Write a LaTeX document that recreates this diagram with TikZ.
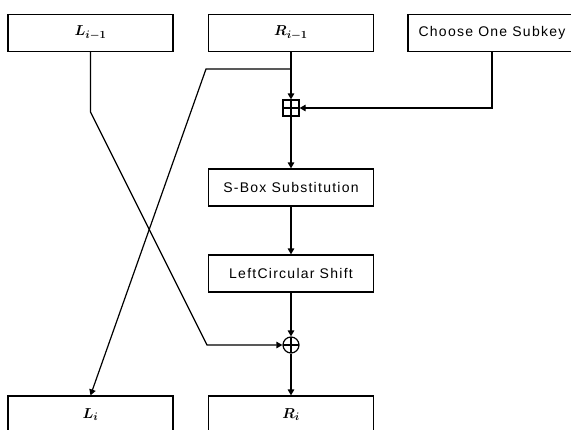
\documentclass[tikz,border=0pt]{standalone}
\usepackage{fontspec}
\setmainfont{Liberation Sans}[LetterSpace=9]
\usetikzlibrary{arrows.meta}
\begin{document}
\begin{tikzpicture}[x=1pt,y=-1pt,
  line width=1.2pt,
  >={Triangle[length=6pt,width=6.5pt]},
  box/.style={draw, minimum width=165pt, minimum height=37pt, inner sep=0pt, font=\fontsize{14}{16}\selectfont},
  mbox/.style={box, font=\fontsize{15.5}{18}\selectfont\boldmath},
  sumbox/.style={draw, rectangle, minimum size=16pt, inner sep=0pt,
    path picture={\draw (path picture bounding box.north) -- (path picture bounding box.south)
      (path picture bounding box.west) -- (path picture bounding box.east);}},
  xorcirc/.style={draw, circle, minimum size=16pt, inner sep=0pt,
    path picture={\draw (path picture bounding box.north) -- (path picture bounding box.south)
      (path picture bounding box.west) -- (path picture bounding box.east);}}
]
\useasboundingbox (0,0) rectangle (571,429);
\node[mbox] (L1) at (90.5,33) {$L_{i-1}$};
\node[mbox] (R1) at (291,33) {$R_{i-1}$};
\node[box, minimum width=168pt] (K) at (492,33) {Choose One Subkey};
\node[sumbox] (xa) at (291,108) {};
\node[box] (S) at (291,187.5) {S-Box Substitution};
\node[box] (C) at (291,273.5) {LeftCircular Shift};
\node[xorcirc] (xo) at (291,345) {};
\node[mbox] (Li) at (90.5,414.5) {$L_i$};
\node[mbox] (Ri) at (291,414.5) {$R_i$};

\coordinate (b1) at (291,69);
\coordinate (b2) at (206,69);
\coordinate (l1) at (90.5,112);
\coordinate (l2) at (207,345);

\draw[->] (R1.south) -- (xa.north);
\draw[->] (b1) -- (b2) -- (Li.north);
\draw[->] (K.south) |- (xa.east);
\draw[->] (xa.south) -- (S.north);
\draw[->] (S.south) -- (C.north);
\draw[->] (C.south) -- (xo.north);
\draw[->] (xo.south) -- (Ri.north);
\draw[->] (L1.south) -- (l1) -- (l2) -- (xo.west);
\end{tikzpicture}
\end{document}
